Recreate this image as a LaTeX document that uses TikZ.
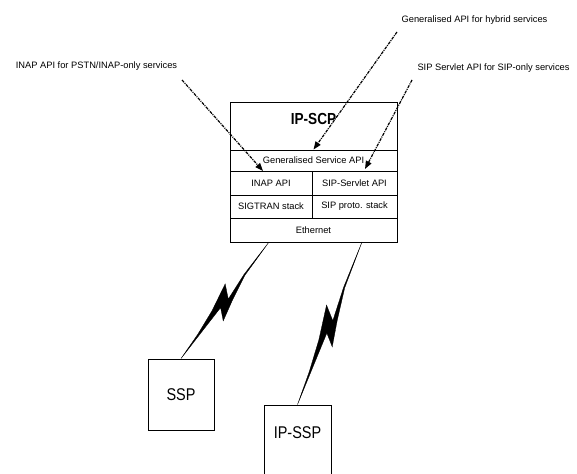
\documentclass[tikz,border=0pt]{standalone}
\usepackage{fontspec}
\setmainfont{Liberation Sans}
\newfontfamily\narrowfont[FakeStretch=0.85]{Liberation Sans}
\usetikzlibrary{arrows.meta,calc}

% lightning link between two points
\newcommand{\zapline}[2]{%
  \filldraw[line width=0.3pt]
    (#1) -- ($(#1)!0.28!(#2)!0.8pt!90:(#2)$)
    -- ($(#1)!0.473!(#2)!6pt!90:(#2)$)
    -- ($(#1)!0.62!(#2)!11pt!90:(#2)$)
    -- ($(#1)!0.558!(#2)!0.9pt!90:(#2)$)
    -- ($(#1)!0.8!(#2)!0.4pt!90:(#2)$)
    -- (#2)
    -- ($(#1)!0.8!(#2)!-1.2pt!90:(#2)$)
    -- ($(#1)!0.612!(#2)!-4pt!90:(#2)$)
    -- ($(#1)!0.41!(#2)!-9.7pt!90:(#2)$)
    -- ($(#1)!0.48!(#2)!1.9pt!90:(#2)$)
    -- ($(#1)!0.28!(#2)!-0.4pt!90:(#2)$)
    -- cycle;}

\begin{document}
\begin{tikzpicture}[x=1pt,y=-1pt]
\tikzstyle{layer} = [draw, line width=0.9pt, inner sep=0pt, minimum height=24pt, font=\fontsize{9.3}{11}\selectfont]
\tikzstyle{note} = [inner sep=0pt, font=\fontsize{9.3}{11}\selectfont]
\tikzstyle{pointer} = [line width=1.2pt, dash pattern=on 3pt off 1pt on 1pt off 1pt, -{Triangle[length=8pt,width=6pt]}]
\tikzstyle{site} = [draw, line width=0.9pt, inner sep=0pt, minimum width=66pt, minimum height=71pt, font=\narrowfont\fontsize{17}{19}\selectfont]
\useasboundingbox (0,0) rectangle (577,473);
% IP-SCP stack
\node[layer, minimum width=167pt, minimum height=48pt, text height=11.5pt, text depth=14pt, font=\narrowfont\bfseries\fontsize{16}{18}\selectfont] (scp) at (313.5,126) {IP-SCP};
\node[layer, minimum width=167pt, minimum height=21pt] (gen) at (313.5,160.5) {Generalised Service API};
\node[layer, minimum width=82pt] (inap) at (271,183) {INAP API};
\node[layer, minimum width=85pt] (sipapi) at (354.5,183) {SIP-Servlet API};
\node[layer, minimum width=82pt, minimum height=23pt] (sigtran) at (271,206.5) {SIGTRAN stack};
\node[layer, minimum width=85pt, minimum height=23pt] (sipstack) at (354.5,206.5) {SIP proto. stack};
\node[layer, minimum width=167pt] (ethernet) at (313.5,230) {Ethernet};
% switching points
\node[site] (ssp) at (181,394.5) {SSP};
\node[site, minimum width=67pt, text height=12.2pt, text depth=17pt] (ipssp) at (297.5,440.5) {IP-SSP};
% service notes
\node[note] (inaplbl) at (96.5,66) {INAP API for PSTN/INAP-only services};
\node[note] (genlbl) at (474.5,20) {Generalised API for hybrid services};
\node[note] (siplbl) at (493.5,68) {SIP Servlet API for SIP-only services};
\coordinate (inapfrom) at (182,80);
\coordinate (inapto) at (263,171);
\coordinate (genfrom) at (397,32);
\coordinate (sipfrom) at (412,80);
\coordinate (sipto) at (365,169);
\draw[pointer] (inapfrom) -- (inapto);
\draw[pointer] (genfrom) -- (gen.north);
\draw[pointer] (sipfrom) -- (sipto);
% links
\coordinate (sspport) at (269,242);
\coordinate (ipsspport) at (362,242);
\zapline{sspport}{ssp.north}
\zapline{ipsspport}{ipssp.north}
\end{tikzpicture}
\end{document}
